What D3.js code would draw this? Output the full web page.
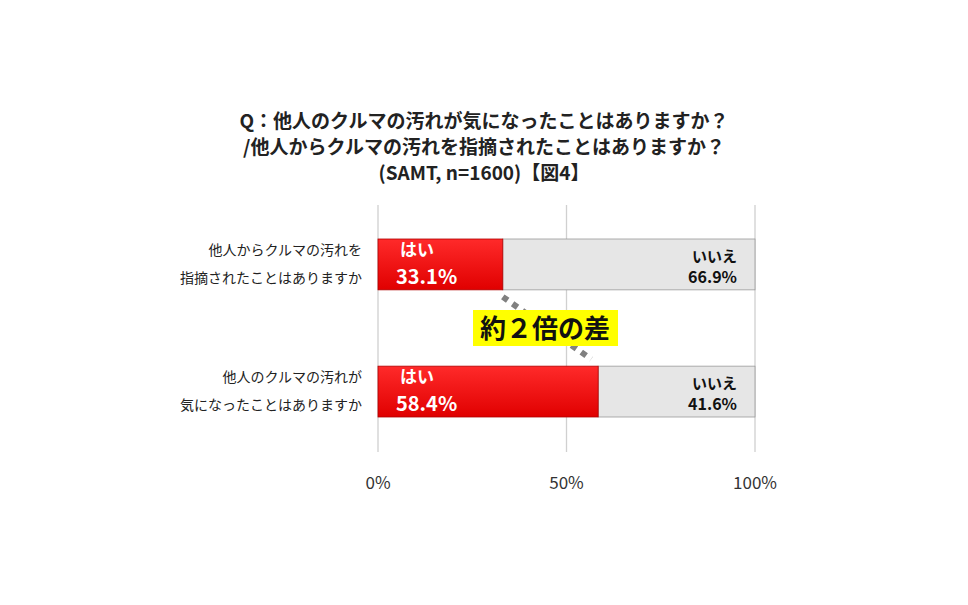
<!DOCTYPE html><html><head><meta charset="utf-8"><script src="https://cdn.jsdelivr.net/npm/d3@7"></script>
<style>body{margin:0;background:#fff}text{font-family:"Noto Sans CJK JP",sans-serif}</style></head><body><svg id="c" width="968" height="605"></svg>
<script>
const categories=["他人からクルマの汚れを|指摘されたことはありますか","他人のクルマの汚れが|気になったことはありますか"];
const yesValues=[33.1,58.4];
const noValues=[66.9,41.6];
const tickLabels=["0%","50%","100%"];
const titleLines=["Q：他人のクルマの汚れが気になったことはありますか？","/他人からクルマの汚れを指摘されたことはありますか？","(SAMT, n=1600)【図4】"];
const svg=d3.select("#c");
const x=d3.scaleLinear().domain([0,100]).range([378,755]);
const y=d3.scaleBand().domain(categories).range([239,417]).paddingInner(0.6).paddingOuter(0);
titleLines.forEach((t,i)=>svg.append("text").attr("x",484).attr("y",128+i*26).attr("text-anchor","middle").attr("font-size",19).attr("font-weight","bold").attr("fill","#222").text(t));
[0,50,100].forEach((v,i)=>{svg.append("line").attr("x1",x(v)).attr("x2",x(v)).attr("y1",205).attr("y2",452).attr("stroke","#d0d0d0").attr("stroke-width",1.3);
svg.append("text").attr("x",x(v)).attr("y",489).attr("text-anchor","middle").attr("font-size",17).attr("fill","#333").text(tickLabels[i]);});
const defs=svg.append("defs");
const gr=defs.append("linearGradient").attr("id","gr").attr("x1",0).attr("x2",0).attr("y1",0).attr("y2",1);
gr.append("stop").attr("offset",0).attr("stop-color","#ff2a2a");gr.append("stop").attr("offset",1).attr("stop-color","#e00000");
categories.forEach((c,i)=>{const y0=y(c),h=y.bandwidth();
svg.append("rect").attr("x",x(yesValues[i])).attr("y",y0).attr("width",x(100)-x(yesValues[i])).attr("height",h).attr("fill","#e6e6e6").attr("stroke","#999").attr("stroke-width",0.8);
svg.append("rect").attr("x",x(0)).attr("y",y0).attr("width",x(yesValues[i])-x(0)).attr("height",h).attr("fill","url(#gr)").attr("stroke","#b00000").attr("stroke-width",0.8);
svg.append("text").attr("x",x(0)+22).attr("y",y0+17).attr("font-size",17).attr("font-weight","bold").attr("fill","#fff").text("はい");
svg.append("text").attr("x",x(0)+18).attr("y",y0+45).attr("font-size",20).attr("font-weight","bold").attr("fill","#fff").text(yesValues[i].toFixed(1)+"%");
svg.append("text").attr("x",x(100)-18).attr("y",y0+23).attr("text-anchor","end").attr("font-size",15).attr("font-weight","bold").attr("fill","#111").text("いいえ");
svg.append("text").attr("x",x(100)-18).attr("y",y0+44).attr("text-anchor","end").attr("font-size",16).attr("font-weight","bold").attr("fill","#111").text(noValues[i].toFixed(1)+"%");
c.split("|").forEach((l,k)=>svg.append("text").attr("x",362).attr("y",y0+16+k*28).attr("text-anchor","end").attr("font-size",14).attr("fill","#222").text(l));
});
const b0=y(categories[0])+y.bandwidth(),b1=y(categories[1]);
svg.append("line").attr("x1",x(yesValues[0])).attr("y1",b0+7).attr("x2",x(yesValues[1])-7).attr("y2",b1-7).attr("stroke","#808080").attr("stroke-width",6).attr("stroke-dasharray","6,6");
svg.append("rect").attr("x",473).attr("y",310).attr("width",145).attr("height",36).attr("fill","#ffff00");
svg.append("text").attr("x",545).attr("y",338).attr("text-anchor","middle").attr("font-size",26).attr("font-weight","bold").attr("fill","#111").text("約２倍の差");
</script></body></html>
